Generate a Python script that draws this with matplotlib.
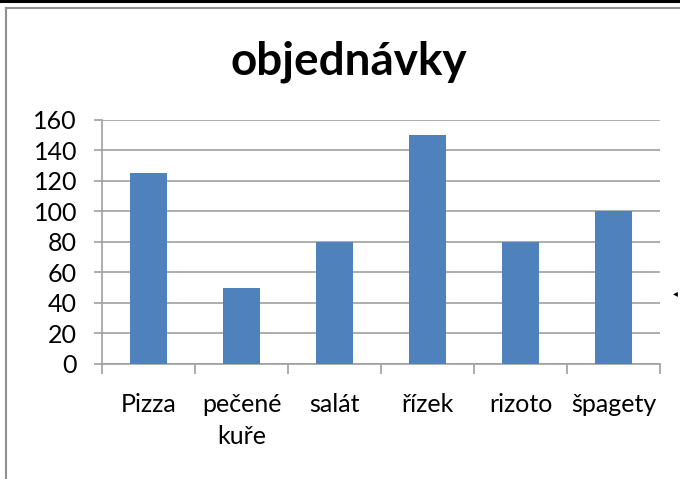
import matplotlib
matplotlib.use("Agg")
from matplotlib import pyplot as plt
from matplotlib.lines import Line2D
import numpy as np

plt.rcParams['font.family'] = ['Lato', 'DejaVu Sans']

# data
categories = ["Pizza", "pečené\nkuře", "salát", "řízek", "rizoto", "špagety"]
values = [125, 50, 80, 150, 80, 100]
y_ticks = [0, 20, 40, 60, 80, 100, 120, 140, 160]

fig = plt.figure(figsize=(6.8, 4.79), dpi=100)
ax = fig.add_axes([0.15, 0.2401, 0.8206, 0.5094])

x = np.arange(len(categories))
ax.bar(x, values, width=0.39, color="#4F81BD", zorder=3)

ax.set_xlim(-0.5, len(categories) - 0.5)
ax.set_ylim(0, 160)
ax.set_yticks(y_ticks)
ax.set_yticklabels([str(v) for v in y_ticks], fontsize=18)

# category labels under the bars, ticks at the boundaries
ax.set_xticks(np.arange(len(categories) + 1) - 0.5)
ax.set_xticklabels([])
ax.tick_params(axis="x", length=7, color="#a0a0a0", width=1.2)
ax.tick_params(axis="y", length=6, color="#a0a0a0", width=1.2, pad=12)
for i, c in enumerate(categories):
    ax.text(i, -19, c, ha="center", va="top", fontsize=18,
            transform=ax.transData, linespacing=1.45)

ax.grid(axis="y", color="#a0a0a0", linewidth=1.2, zorder=0)
for s in ["top", "right"]:
    ax.spines[s].set_visible(False)
for s in ["left", "bottom"]:
    ax.spines[s].set_color("#a0a0a0")
    ax.spines[s].set_linewidth(1.2)

fig.text(0.513, 0.872, "objednávky", ha="center", va="center",
         fontsize=33, fontweight="bold")

# frame of the screenshot
fig.add_artist(Line2D([0, 1], [0.998, 0.998], color="black", lw=2.2,
                      transform=fig.transFigure))
fig.add_artist(Line2D([0.0095, 1], [0.984, 0.984], color="#909090", lw=1.5,
                      transform=fig.transFigure))
fig.add_artist(Line2D([0.0095, 0.0095], [0, 0.984], color="#909090", lw=1.5,
                      transform=fig.transFigure))
fig.text(0.993, 0.388, "◂", ha="center", va="center", fontsize=7,
         family="DejaVu Sans")

fig.savefig("out.png", dpi=100)
